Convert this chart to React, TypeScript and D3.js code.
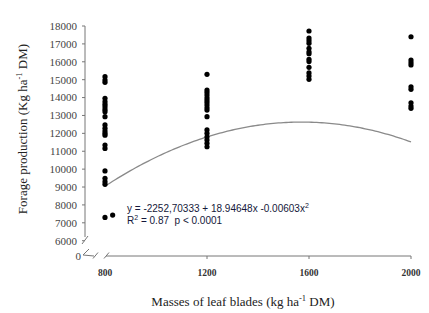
import React from "react";
import * as d3 from "d3";

const xTicks = [800, 1200, 1600, 2000];
const yTicks = [6000, 7000, 8000, 9000, 10000, 11000, 12000, 13000, 14000, 15000, 16000, 17000, 18000];

// observations: [mass of leaf blades, forage production]
const x800 = [800, 800, 800, 800, 800, 800, 800, 800, 800, 800, 800, 800, 800, 800, 800, 800, 800, 800, 800, 800, 800, 800, 830];
const y800 = [15170, 14980, 14850, 13960, 13770, 13620, 13490, 13340, 13210, 12930, 12470, 12280, 12130, 12000, 11900, 11350, 11160, 9900, 9490, 9300, 9150, 7300, 7430];
const x1200 = [1200, 1200, 1200, 1200, 1200, 1200, 1200, 1200, 1200, 1200, 1200, 1200, 1200, 1200, 1200, 1200, 1200];
const y1200 = [15300, 14420, 14290, 14140, 13990, 13860, 13730, 13580, 13430, 13300, 12930, 12190, 12000, 11810, 11630, 11440, 11250];
const x1600 = [1600, 1600, 1600, 1600, 1600, 1600, 1600, 1600, 1600, 1600, 1600, 1600, 1600];
const y1600 = [17720, 17330, 17180, 17030, 16750, 16560, 16450, 16140, 16010, 15690, 15380, 15200, 15020];
const x2000 = [2000, 2000, 2000, 2000, 2000, 2000, 2000, 2000, 2000];
const y2000 = [17400, 16100, 15950, 15820, 14600, 14460, 13710, 13530, 13400];

// regression coefficients shown on the chart: y = a + b x + c x^2
const coef = [-2252.70333, 18.94648, -0.00603];

const W = 429;
const H = 313;

export default function App() {
  const x = d3.scaleLinear().domain([800, 2000]).range([105, 411]);
  const y = d3.scaleLinear().domain([6000, 18000]).range([240.7, 26]);

  const pts: [number, number][] = [];
  const add = (xs: number[], ys: number[]) => xs.forEach((v, i) => pts.push([v, ys[i]]));
  add(x800, y800);
  add(x1200, y1200);
  add(x1600, y1600);
  add(x2000, y2000);

  const curveX = d3.range(800, 2001, 10);
  const line = d3
    .line<number>()
    .x((d) => x(d))
    .y((d) => y(coef[0] + coef[1] * d + coef[2] * d * d));

  const axisColor = "#777";
  const serif = "'Liberation Serif', 'Times New Roman', serif";
  const sans = "'Liberation Sans', Arial, sans-serif";
  const y0 = 256;

  return (
    <svg
      width={W}
      height={H}
      style={{ position: "absolute", left: 0, top: 0, background: "#fff" }}
    >
      <rect width={W} height={H} fill="#fff" />
      {/* y axis */}
      <line x1={85} x2={85} y1={y(18000)} y2={237} stroke={axisColor} strokeWidth={1} />
      <line x1={82} y1={244} x2={88} y2={236} stroke={axisColor} strokeWidth={1} />
      {yTicks.map((t) => (
        <g key={t}>
          <line x1={82} x2={85} y1={y(t)} y2={y(t)} stroke={axisColor} />
          <text
            x={77}
            y={y(t)}
            dy="0.35em"
            textAnchor="end"
            fontFamily={serif}
            fontSize={11}
            fill="#444"
          >
            {t}
          </text>
        </g>
      ))}
      <text x={81} y={y0} dy="0.35em" textAnchor="end" fontFamily={serif} fontSize={11} fill="#444">
        0
      </text>
      {/* break near origin */}
      <line x1={83} y1={255} x2={89} y2={249} stroke={axisColor} />
      <line x1={83} y1={255} x2={94} y2={y0} stroke={axisColor} />
      <line x1={93} y1={258.5} x2={98} y2={252.5} stroke={axisColor} />
      <line x1={104} y1={258.5} x2={109} y2={252.5} stroke={axisColor} />
      {/* x axis */}
      <line x1={106} x2={x(2000)} y1={y0} y2={y0} stroke={axisColor} />
      {xTicks.map((t) => (
        <g key={t}>
          {t > 800 && <line x1={x(t)} x2={x(t)} y1={y0} y2={y0 + 3} stroke={axisColor} />}
          <text
            x={x(t)}
            y={276}
            textAnchor="middle"
            fontFamily={serif}
            fontWeight="bold"
            fontSize={9.5}
            fill="#333"
          >
            {t}
          </text>
        </g>
      ))}
      {/* regression curve */}
      <path d={line(curveX) || ""} fill="none" stroke="#8a8a8a" strokeWidth={1.3} />
      {/* points */}
      {pts.map(([a, b], i) => (
        <circle key={i} cx={x(a)} cy={y(b)} r={2.6} fill="#000" />
      ))}
      {/* equation */}
      <text x={127} y={212} fontFamily={sans} fontSize={10} fill="#14183a">
        y = -2252,70333 + 18.94648x -0.00603x
        <tspan dy={-4} fontSize={7}>2</tspan>
      </text>
      <text x={127} y={224} fontFamily={sans} fontSize={10} fill="#14183a">
        R<tspan dy={-4} fontSize={7}>2</tspan>
        <tspan dy={4}>{" = 0.87\u00a0\u00a0p < 0.0001"}</tspan>
      </text>
      {/* axis titles */}
      <text x={243} y={306} textAnchor="middle" fontFamily={serif} fontSize={13} fill="#222">
        Masses of leaf blades (kg ha
        <tspan dy={-5} fontSize={8.5}>-1</tspan>
        <tspan dy={5}> DM)</tspan>
      </text>
      <text
        transform="translate(27,129) rotate(-90)"
        textAnchor="middle"
        fontFamily={serif}
        fontSize={13}
        fill="#222"
      >
        Forage production (Kg ha
        <tspan dy={-5} fontSize={8.5}>-1</tspan>
        <tspan dy={5}> DM)</tspan>
      </text>
    </svg>
  );
}
